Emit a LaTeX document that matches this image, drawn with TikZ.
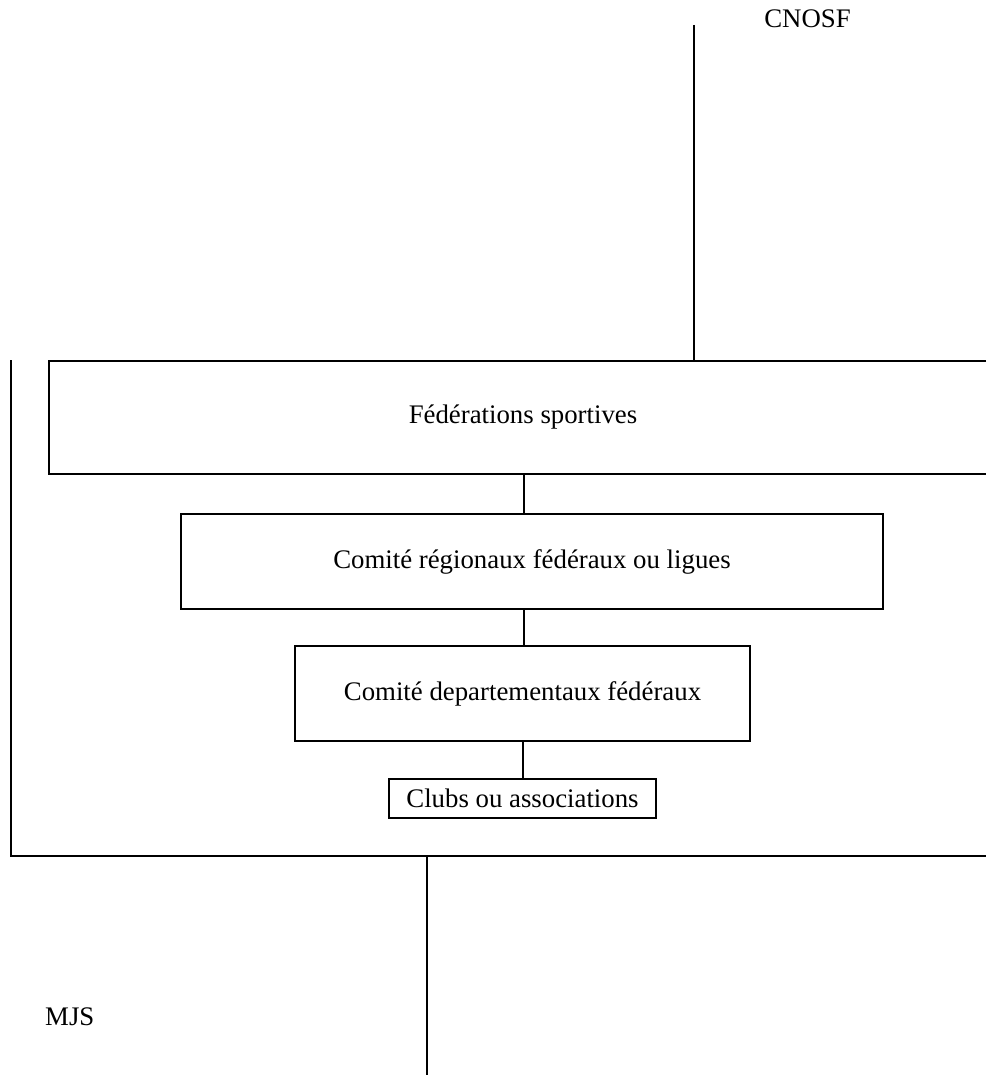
\documentclass[tikz,border=0pt]{standalone}
\usepackage{fontspec}
\setmainfont{Liberation Serif}
\begin{document}
\begin{tikzpicture}[x=1pt,y=-1pt,
  lbl/.style={font=\fontsize{26.8}{30}\selectfont, inner sep=0pt},
  boxn/.style={draw, line width=1.4pt, inner sep=0pt, font=\fontsize{26.8}{30}\selectfont},
  conn/.style={line width=1.4pt}]
\useasboundingbox (0,0) rectangle (986,1075);
% labels
\node[lbl, anchor=base] (cnosf) at (807.5,28) {CNOSF};
\node[lbl, anchor=base west] (mjs) at (45,1025) {MJS};
% Federations (open on the right)
\node[lbl] (fed) at (523,417) {Fédérations sportives};
\coordinate (fedtop) at (694,361);
\coordinate (cnosfline) at (694,25);
\draw[conn] (986,361) -- (49,361) -- (49,474) -- (986,474);
% outer frame
\coordinate (frameL) at (11,360);
\coordinate (frameBL) at (11,856);
\coordinate (frameBR) at (986,856);
\draw[conn] (frameL) -- (frameBL) -- (frameBR);
% boxes
\node[boxn, minimum width=702pt, minimum height=95pt] (reg) at (532,561.5) {Comité régionaux fédéraux ou ligues};
\node[boxn, minimum width=455pt, minimum height=95pt] (dep) at (522.5,693.5) {Comité departementaux fédéraux};
\node[boxn, minimum width=267pt, minimum height=39pt] (club) at (522.5,798.5) {Clubs ou associations};
% connectors
\draw[conn] (524,474) -- (reg.north -| 524,0);
\draw[conn] (cnosfline) -- (fedtop);
\draw[conn] (reg.south -| 524,0) -- (dep.north -| 524,0);
\draw[conn] (dep.south -| 523,0) -- (club.north -| 523,0);
\coordinate (mjsline) at (427,1075);
\draw[conn] (427,856) -- (mjsline);
\end{tikzpicture}
\end{document}
